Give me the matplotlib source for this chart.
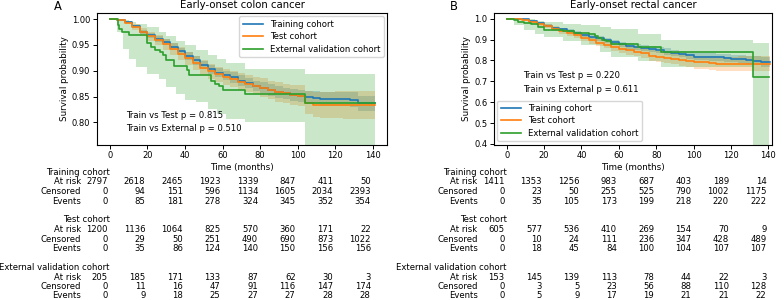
import matplotlib
matplotlib.use("Agg")
import matplotlib.pyplot as plt
import matplotlib.ticker as mticker
import matplotlib.transforms as mtransforms

# ---- survival curves, panel A (colon) ----
a_train_t = [0, 4, 8, 12, 16, 20, 24, 28, 32, 36, 40, 44, 48, 52, 56, 60, 64, 68, 72, 76,
             80, 84, 88, 92, 96, 100, 104, 108, 112, 116, 120, 124, 128, 132, 136, 141]
a_train_s = [1.000, 0.999, 0.994, 0.986, 0.976, 0.969, 0.962, 0.955, 0.947, 0.938, 0.929, 0.920,
             0.911, 0.903, 0.896, 0.891, 0.887, 0.881, 0.876, 0.871, 0.867, 0.863, 0.859, 0.856,
             0.853, 0.851, 0.849, 0.848, 0.845, 0.845, 0.845, 0.845, 0.844, 0.837, 0.837, 0.837]
a_train_lo = [1.000, 0.998, 0.992, 0.983, 0.972, 0.964, 0.956, 0.949, 0.940, 0.931, 0.921, 0.912,
              0.903, 0.894, 0.887, 0.882, 0.877, 0.871, 0.866, 0.861, 0.856, 0.852, 0.848, 0.845,
              0.841, 0.839, 0.837, 0.836, 0.832, 0.832, 0.832, 0.831, 0.830, 0.822, 0.822, 0.822]
a_train_hi = [1.000, 1.000, 0.996, 0.989, 0.980, 0.974, 0.968, 0.961, 0.954, 0.945, 0.937, 0.928,
              0.919, 0.912, 0.905, 0.900, 0.897, 0.891, 0.886, 0.881, 0.878, 0.874, 0.870, 0.867,
              0.865, 0.863, 0.861, 0.860, 0.858, 0.858, 0.858, 0.859, 0.858, 0.852, 0.852, 0.852]

a_test_t = a_train_t
a_test_s = [1.000, 0.999, 0.993, 0.985, 0.975, 0.967, 0.959, 0.951, 0.942, 0.933, 0.924, 0.915,
            0.906, 0.899, 0.893, 0.888, 0.884, 0.879, 0.875, 0.871, 0.867, 0.863, 0.859, 0.856,
            0.853, 0.852, 0.838, 0.834, 0.834, 0.834, 0.834, 0.834, 0.834, 0.834, 0.834, 0.834]
a_test_lo = [1.000, 0.998, 0.990, 0.980, 0.968, 0.958, 0.949, 0.940, 0.930, 0.920, 0.911, 0.901,
             0.892, 0.884, 0.878, 0.873, 0.868, 0.863, 0.858, 0.854, 0.849, 0.845, 0.840, 0.837,
             0.833, 0.832, 0.816, 0.810, 0.809, 0.809, 0.808, 0.807, 0.807, 0.807, 0.807, 0.807]
a_test_hi = [1.000, 1.000, 0.996, 0.990, 0.982, 0.976, 0.969, 0.962, 0.954, 0.946, 0.937, 0.929,
             0.920, 0.914, 0.908, 0.903, 0.900, 0.895, 0.892, 0.888, 0.885, 0.881, 0.878, 0.875,
             0.873, 0.872, 0.860, 0.858, 0.859, 0.859, 0.860, 0.860, 0.860, 0.860, 0.860, 0.860]

a_ext_t = [0, 4.1, 5, 6.5, 10, 20, 22, 24, 26.5, 28, 30, 34, 41, 42, 54, 56, 58, 60, 72, 104, 141]
a_ext_s = [1.000, 0.988, 0.981, 0.975, 0.969, 0.953, 0.946, 0.941, 0.936, 0.930, 0.920, 0.910,
           0.901, 0.891, 0.880, 0.875, 0.870, 0.862, 0.854, 0.838, 0.838]
a_ext_ci_t = [0, 4, 7, 10, 14, 20, 26, 30, 35, 40, 46, 52, 57, 62, 72, 104, 141]
a_ext_lo = [1.000, 0.975, 0.943, 0.923, 0.907, 0.894, 0.884, 0.868, 0.855, 0.844, 0.839, 0.826,
            0.816, 0.807, 0.800, 0.700, 0.700]
a_ext_hi = [1.000, 1.000, 0.998, 0.994, 0.990, 0.985, 0.975, 0.968, 0.958, 0.950, 0.940, 0.930,
            0.922, 0.915, 0.904, 0.894, 0.894]

# ---- survival curves, panel B (rectal) ----
b_train_t = a_train_t
b_train_s = [1.000, 1.000, 0.996, 0.988, 0.978, 0.966, 0.955, 0.948, 0.941, 0.931, 0.920, 0.914,
             0.905, 0.897, 0.888, 0.877, 0.868, 0.865, 0.861, 0.856, 0.849, 0.842, 0.836, 0.830,
             0.825, 0.818, 0.818, 0.816, 0.814, 0.812, 0.808, 0.806, 0.804, 0.798, 0.794, 0.791]
b_train_lo = [1.000, 0.999, 0.993, 0.984, 0.973, 0.960, 0.948, 0.940, 0.932, 0.921, 0.910, 0.903,
              0.894, 0.885, 0.876, 0.864, 0.855, 0.851, 0.847, 0.842, 0.835, 0.827, 0.821, 0.815,
              0.809, 0.802, 0.802, 0.799, 0.797, 0.794, 0.790, 0.787, 0.785, 0.776, 0.770, 0.766]
b_train_hi = [1.000, 1.000, 0.999, 0.992, 0.983, 0.972, 0.962, 0.956, 0.950, 0.941, 0.930, 0.925,
              0.916, 0.909, 0.900, 0.890, 0.881, 0.879, 0.875, 0.870, 0.863, 0.857, 0.851, 0.845,
              0.841, 0.834, 0.834, 0.833, 0.831, 0.830, 0.826, 0.825, 0.823, 0.820, 0.818, 0.816]

b_test_t = a_train_t
b_test_s = [1.000, 1.000, 0.992, 0.983, 0.975, 0.965, 0.952, 0.940, 0.930, 0.920, 0.908, 0.897,
            0.885, 0.876, 0.866, 0.856, 0.848, 0.842, 0.835, 0.823, 0.818, 0.813, 0.809, 0.800,
            0.796, 0.791, 0.790, 0.786, 0.783, 0.783, 0.783, 0.783, 0.783, 0.783, 0.783, 0.783]
b_test_lo = [1.000, 0.999, 0.987, 0.976, 0.966, 0.955, 0.940, 0.927, 0.916, 0.905, 0.892, 0.880,
             0.867, 0.857, 0.846, 0.835, 0.826, 0.819, 0.811, 0.798, 0.792, 0.786, 0.781, 0.771,
             0.766, 0.760, 0.758, 0.753, 0.749, 0.749, 0.748, 0.747, 0.747, 0.747, 0.747, 0.747]
b_test_hi = [1.000, 1.000, 0.997, 0.990, 0.984, 0.975, 0.964, 0.953, 0.944, 0.935, 0.924, 0.914,
             0.903, 0.895, 0.886, 0.877, 0.870, 0.865, 0.859, 0.848, 0.844, 0.840, 0.837, 0.829,
             0.826, 0.822, 0.822, 0.819, 0.817, 0.817, 0.818, 0.819, 0.819, 0.819, 0.819, 0.819]

b_ext_t = [0, 4, 6, 9, 13, 17, 20, 30, 36, 44, 47, 49, 51, 53, 56, 70, 82.7, 131.8, 140.5]
b_ext_s = [1.000, 0.993, 0.986, 0.979, 0.972, 0.960, 0.947, 0.940, 0.933, 0.925, 0.915, 0.907,
           0.900, 0.893, 0.880, 0.863, 0.840, 0.719, 0.719]
b_ext_ci_t = [0, 4, 9, 15, 20, 30, 40, 50, 56, 70, 82.7, 131.8, 140.5]
b_ext_lo = [1.000, 0.970, 0.945, 0.925, 0.910, 0.895, 0.875, 0.840, 0.815, 0.795, 0.770, 0.350, 0.350]
b_ext_hi = [1.000, 1.000, 0.998, 0.990, 0.982, 0.976, 0.970, 0.962, 0.952, 0.925, 0.899, 0.882, 0.882]

# ---- at-risk tables ----
table_ticks = [0, 20, 40, 60, 80, 100, 120, 140]
cohorts = ["Training cohort", "Test cohort", "External validation cohort"]
row_names = ["At risk", "Censored", "Events"]

a_train_counts = [[2797, 2618, 2465, 1923, 1339, 847, 411, 50],
                  [0, 94, 151, 596, 1134, 1605, 2034, 2393],
                  [0, 85, 181, 278, 324, 345, 352, 354]]
a_test_counts = [[1200, 1136, 1064, 825, 570, 360, 171, 22],
                 [0, 29, 50, 251, 490, 690, 873, 1022],
                 [0, 35, 86, 124, 140, 150, 156, 156]]
a_ext_counts = [[205, 185, 171, 133, 87, 62, 30, 3],
                [0, 11, 16, 47, 91, 116, 147, 174],
                [0, 9, 18, 25, 27, 27, 28, 28]]
b_train_counts = [[1411, 1353, 1256, 983, 687, 403, 189, 14],
                  [0, 23, 50, 255, 525, 790, 1002, 1175],
                  [0, 35, 105, 173, 199, 218, 220, 222]]
b_test_counts = [[605, 577, 536, 410, 269, 154, 70, 9],
                 [0, 10, 24, 111, 236, 347, 428, 489],
                 [0, 18, 45, 84, 100, 104, 107, 107]]
b_ext_counts = [[153, 145, 139, 113, 78, 44, 22, 3],
                [0, 3, 5, 23, 56, 88, 110, 128],
                [0, 5, 9, 17, 19, 21, 21, 22]]

fs = 6.1
plt.rcParams.update({
    "font.size": fs,
    "axes.linewidth": 0.8,
    "xtick.labelsize": 6.0, "ytick.labelsize": 6.0,
    "xtick.major.size": 2.6, "ytick.major.size": 2.6,
    "xtick.major.pad": 2.2, "ytick.major.pad": 2.2,
    "xtick.major.width": 0.7, "ytick.major.width": 0.7,
})

fig = plt.figure(figsize=(7.84, 3.0), dpi=100)
W, H = 784, 300
axA = fig.add_axes([97 / W, 1 - 144.5 / H, 290 / W, 131.5 / H])
axB = fig.add_axes([494 / W, 1 - 144.5 / H, 278.3 / W, 131.5 / H])

colors = ["C0", "C1", "C2"]


def draw_panel(ax, curves, title, letter, letter_x, ylim, xlim, yticks, ptexts, legend_loc):
    for (t, s, ct, lo, hi), c, name in zip(curves, colors, cohorts):
        ax.fill_between(ct, lo, hi, step="post", color=c, alpha=0.25, linewidth=0)
        ax.step(t, s, where="post", color=c, linewidth=1.2, label=name)
    ax.set_xlim(*xlim)
    ax.set_ylim(*ylim)
    ax.set_yticks(yticks)
    ax.set_xticks(table_ticks)
    ax.set_xlabel("Time (months)", labelpad=2, fontsize=6.3)
    ax.set_ylabel("Survival probability", labelpad=2, fontsize=6.3)
    ax.set_title(title, pad=3.5, fontsize=7.3)
    fig.text(letter_x / W, 1 - 6 / H, letter, fontsize=8.3, va="center")
    for (x, y, txt) in ptexts:
        ax.text(x, y, txt, transform=ax.transAxes, va="center")
    ax.legend(loc=legend_loc, fontsize=6.1, handlelength=2.4, labelspacing=0.4,
              borderaxespad=0.4)


def draw_table(ax, counts_list):
    trans = mtransforms.blended_transform_factory(ax.transData, fig.transFigure)
    lab_trans = mtransforms.offset_copy(trans, fig=fig, x=-29, y=0, units="dots")
    num_trans = mtransforms.offset_copy(trans, fig=fig, x=-2, y=0, units="dots")
    group_y = [172.5, 220, 267.5]
    for name, counts, gy in zip(cohorts, counts_list, group_y):
        ax.text(0, 1 - gy / H, name, transform=trans, ha="right", va="center")
        for k, (row, vals) in enumerate(zip(row_names, counts)):
            y = 1 - (gy + 9.5 * (k + 1)) / H
            ax.text(0, y, row, transform=lab_trans, ha="right", va="center")
            for tk, v in zip(table_ticks, vals):
                ax.text(tk, y, str(v), transform=num_trans, ha="right", va="center")


draw_panel(axA,
           [(a_train_t, a_train_s, a_train_t, a_train_lo, a_train_hi),
            (a_test_t, a_test_s, a_test_t, a_test_lo, a_test_hi),
            (a_ext_t, a_ext_s, a_ext_ci_t, a_ext_lo, a_ext_hi)],
           "Early-onset colon cancer", "A", 54, (0.757, 1.012), (-6.9, 147.6),
           [0.80, 0.85, 0.90, 0.95, 1.00],
           [(0.1, 0.217, "Train vs Test p = 0.815"), (0.1, 0.12, "Train vs External p = 0.510")],
           "upper right")
axA.yaxis.set_major_formatter(mticker.FormatStrFormatter("%.2f"))

draw_panel(axB,
           [(b_train_t, b_train_s, b_train_t, b_train_lo, b_train_hi),
            (b_test_t, b_test_s, b_test_t, b_test_lo, b_test_hi),
            (b_ext_t, b_ext_s, b_ext_ci_t, b_ext_lo, b_ext_hi)],
           "Early-onset rectal cancer", "B", 450, (0.397, 1.027), (-6.8, 142.1),
           [0.4, 0.5, 0.6, 0.7, 0.8, 0.9, 1.0],
           [(0.104, 0.523, "Train vs Test p = 0.220"), (0.104, 0.421, "Train vs External p = 0.611")],
           "lower left")
axB.yaxis.set_major_formatter(mticker.FormatStrFormatter("%.1f"))

draw_table(axA, [a_train_counts, a_test_counts, a_ext_counts])
draw_table(axB, [b_train_counts, b_test_counts, b_ext_counts])

fig.savefig("out.png", dpi=100)
